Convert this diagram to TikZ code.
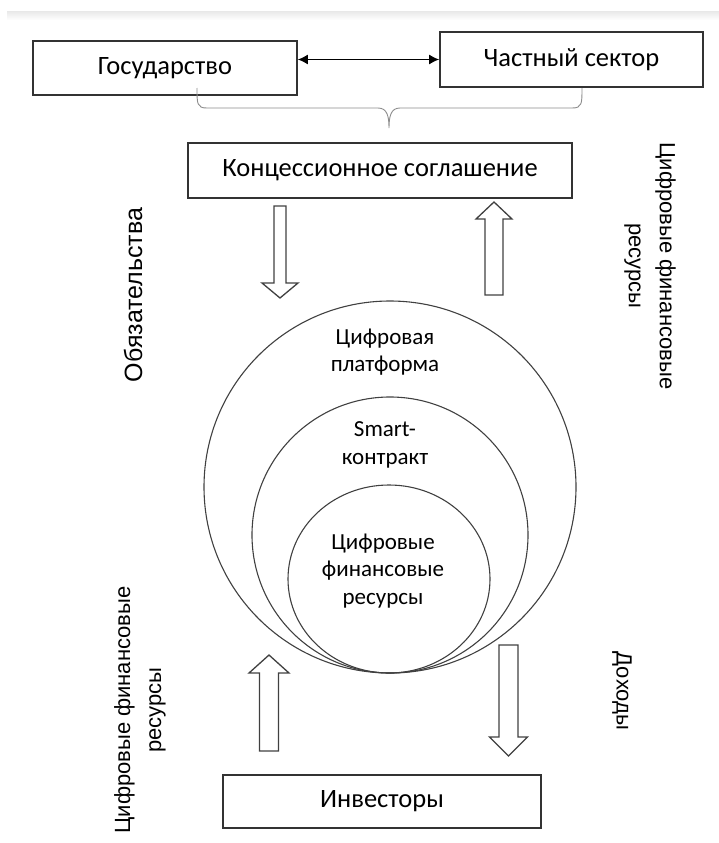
\documentclass[tikz,border=0pt]{standalone}
\usepackage{fontspec}
\setmainfont{Carlito}
\newfontfamily\sidefont{Liberation Sans}
\usetikzlibrary{arrows.meta,shapes.geometric}

% hollow block arrow: x, tail y, head base y, tip y, half shaft, half head
\newcommand{\blockarrow}[6]{%
  \draw[blockline] (#1-#5,#2) -- (#1-#5,#3) -- (#1-#6,#3) -- (#1,#4)
    -- (#1+#6,#3) -- (#1+#5,#3) -- (#1+#5,#2) -- cycle;}

\begin{document}
\begin{tikzpicture}[x=1pt,y=-1pt,
  box/.style={draw=black!80,line width=1.6pt,minimum height=54,inner sep=0pt,
    font=\fontsize{26.5}{30}\selectfont},
  ring/.style={draw=black!75,line width=1.1pt,circle,inner sep=0pt},
  ringtext/.style={align=center,font=\fontsize{23}{27.5}\selectfont},
  side/.style={align=center,font=\sidefont\fontsize{22}{31}\selectfont},
  blockline/.style={draw=black!75,line width=1.3pt,line join=miter},
  brace/.style={draw=black!45,line width=0.9pt}]
\useasboundingbox (0,0) rectangle (719,843);
\shade[top color=black!8,bottom color=white] (7,12) rectangle (719,20);

% parties
\node[box,minimum width=264] (gos) at (165,68) {Государство};
\node[box,minimum width=263,minimum height=55] (chast) at (571.5,59.5) {Частный сектор};
\draw[{Latex[length=10pt,width=10pt]}-{Latex[length=10pt,width=10pt]},line width=1.5pt]
  (gos.east |- chast.west) -- (chast.west);

% brace
\coordinate (bl) at (197,88);
\coordinate (br) at (582,88);
\coordinate (bt) at (389,128);
\draw[brace] (bl) .. controls +(0,16) and +(-10,0) .. (207,108) -- (378,108)
  .. controls +(9,0) and +(0,-12) .. (bt)
  .. controls +(0,-12) and +(-9,0) .. (400,108) -- (572,108)
  .. controls +(10,0) and +(0,16) .. (br);

\node[box,minimum width=384,minimum height=55] (konc) at (380,170.5) {Концессионное соглашение};
\node[box,minimum width=318,minimum height=53] (invest) at (382,801.5) {Инвесторы};

% circles
\node[ring,minimum size=372] (platform) at (390,487) {};
\node[ring,minimum size=276] (contract) at (390,535) {};
\node[ring,ellipse,minimum width=202,minimum height=188] (resources) at (389,579) {};
\node[ringtext] (platformtext) at (385,352) {Цифровая\\платформа};
\node[ringtext] (contracttext) at (385,445) {Smart-\\контракт};
\node[ringtext] (resourcestext) at (383,571) {Цифровые\\финансовые\\ресурсы};

% flows
\blockarrow{280}{206}{283}{298}{6}{18}
\blockarrow{494}{295}{219}{202}{9}{18}
\blockarrow{269}{751}{673}{655}{9.5}{20}
\blockarrow{508.5}{645}{737}{756}{9.5}{19}

\node[side,rotate=90,font=\sidefont\fontsize{25}{31}\selectfont] (duty) at (133,295) {Обязательства};
\node[side,rotate=-90] (resup) at (650,266) {Цифровые финансовые\\ресурсы};
\node[side,rotate=90] (resin) at (140,710) {Цифровые финансовые\\ресурсы};
\node[side,rotate=-90] (income) at (622,691) {Доходы};
\end{tikzpicture}
\end{document}
